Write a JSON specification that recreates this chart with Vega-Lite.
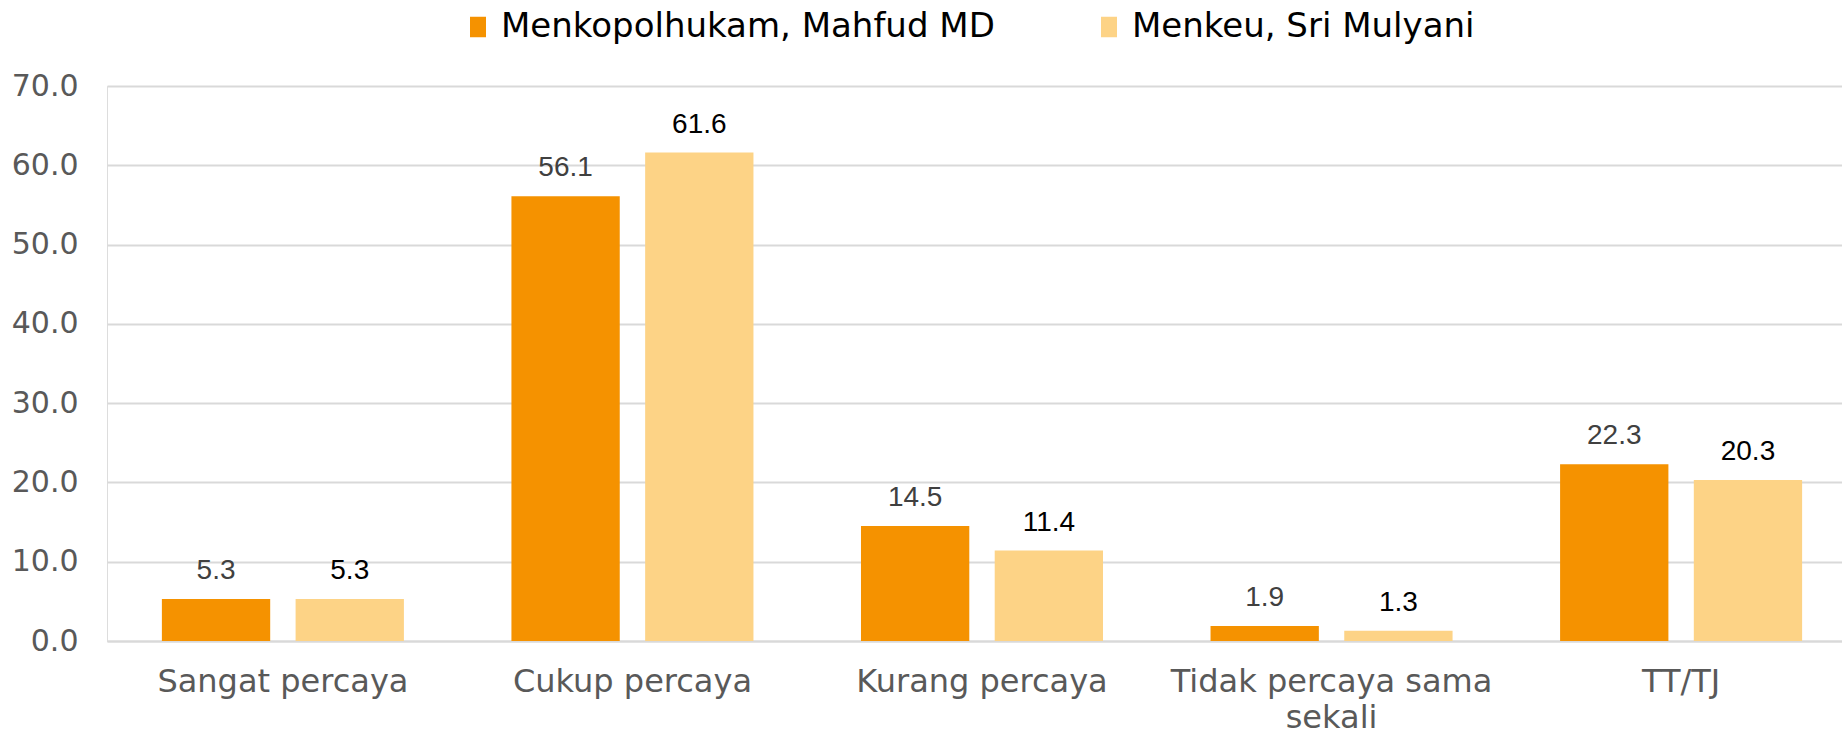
{
  "$schema": "https://vega.github.io/schema/vega-lite/v6.json",
  "width": 1735,
  "height": 555,
  "autosize": {"type": "none"},
  "padding": {"left": 107, "top": 86, "right": 0, "bottom": 95},
  "background": "white",
  "data": {
    "values": [
      {"category": "Sangat percaya", "series": "Menkopolhukam, Mahfud MD", "value": 5.3},
      {"category": "Sangat percaya", "series": "Menkeu, Sri Mulyani", "value": 5.3},
      {"category": "Cukup percaya", "series": "Menkopolhukam, Mahfud MD", "value": 56.1},
      {"category": "Cukup percaya", "series": "Menkeu, Sri Mulyani", "value": 61.6},
      {"category": "Kurang percaya", "series": "Menkopolhukam, Mahfud MD", "value": 14.5},
      {"category": "Kurang percaya", "series": "Menkeu, Sri Mulyani", "value": 11.4},
      {"category": "Tidak percaya sama sekali", "series": "Menkopolhukam, Mahfud MD", "value": 1.9},
      {"category": "Tidak percaya sama sekali", "series": "Menkeu, Sri Mulyani", "value": 1.3},
      {"category": "TT/TJ", "series": "Menkopolhukam, Mahfud MD", "value": 22.3},
      {"category": "TT/TJ", "series": "Menkeu, Sri Mulyani", "value": 20.3}
    ]
  },
  "encoding": {
    "x": {
      "field": "category",
      "type": "nominal",
      "sort": null,
      "scale": {"paddingInner": 0.3076, "paddingOuter": 0.157, "range": [0, 1750]},
      "axis": {
        "title": null,
        "labelAngle": 0,
        "labelFont": "DejaVu Sans",
        "labelFontSize": 32,
        "labelColor": "#595959",
        "labelPadding": 25,
        "labelLineHeight": 36,
        "labelLimit": 1000,
        "ticks": false,
        "domainColor": "#d9d9d9",
        "domainWidth": 2,
        "grid": false,
        "labelExpr": "datum.value == 'Tidak percaya sama sekali' ? ['Tidak percaya sama', 'sekali'] : datum.value"
      }
    },
    "xOffset": {
      "field": "series",
      "type": "nominal",
      "sort": ["Menkopolhukam, Mahfud MD", "Menkeu, Sri Mulyani"],
      "scale": {"paddingInner": 0.19, "paddingOuter": 0}
    },
    "y": {
      "field": "value",
      "type": "quantitative",
      "scale": {"domain": [0, 70], "nice": false},
      "axis": {
        "title": null,
        "values": [0, 10, 20, 30, 40, 50, 60, 70],
        "format": ".1f",
        "labelFont": "DejaVu Sans",
        "labelFontSize": 30,
        "labelColor": "#595959",
        "labelPadding": 29,
        "ticks": false,
        "domain": false,
        "gridColor": "#d9d9d9",
        "gridWidth": 2
      }
    }
  },
  "layer": [
    {
      "mark": {"type": "bar"},
      "encoding": {
        "color": {
          "field": "series",
          "type": "nominal",
          "sort": ["Menkopolhukam, Mahfud MD", "Menkeu, Sri Mulyani"],
          "scale": {"domain": ["Menkopolhukam, Mahfud MD", "Menkeu, Sri Mulyani"], "range": ["#F59200", "#FDD386"]},
          "legend": {
            "title": null,
            "orient": "none",
            "legendX": 354,
            "legendY": -76,
            "direction": "horizontal",
            "symbolType": "M-0.78,-1L0.78,-1L0.78,1L-0.78,1Z",
            "symbolSize": 420,
            "symbolStrokeWidth": 0,
            "labelFont": "DejaVu Sans",
            "labelFontSize": 34,
            "labelColor": "#000000",
            "labelLimit": 800,
            "labelOffset": 6,
            "columnPadding": 97
          }
        }
      }
    },
    {
      "mark": {"type": "text", "baseline": "bottom", "dy": -14, "font": "Liberation Sans", "fontSize": 28},
      "encoding": {
        "text": {"field": "value", "type": "quantitative", "format": ".1f"},
        "color": {
          "condition": {"test": "datum.series == 'Menkopolhukam, Mahfud MD'", "value": "#404040"},
          "value": "#000000"
        }
      }
    }
  ]
}
